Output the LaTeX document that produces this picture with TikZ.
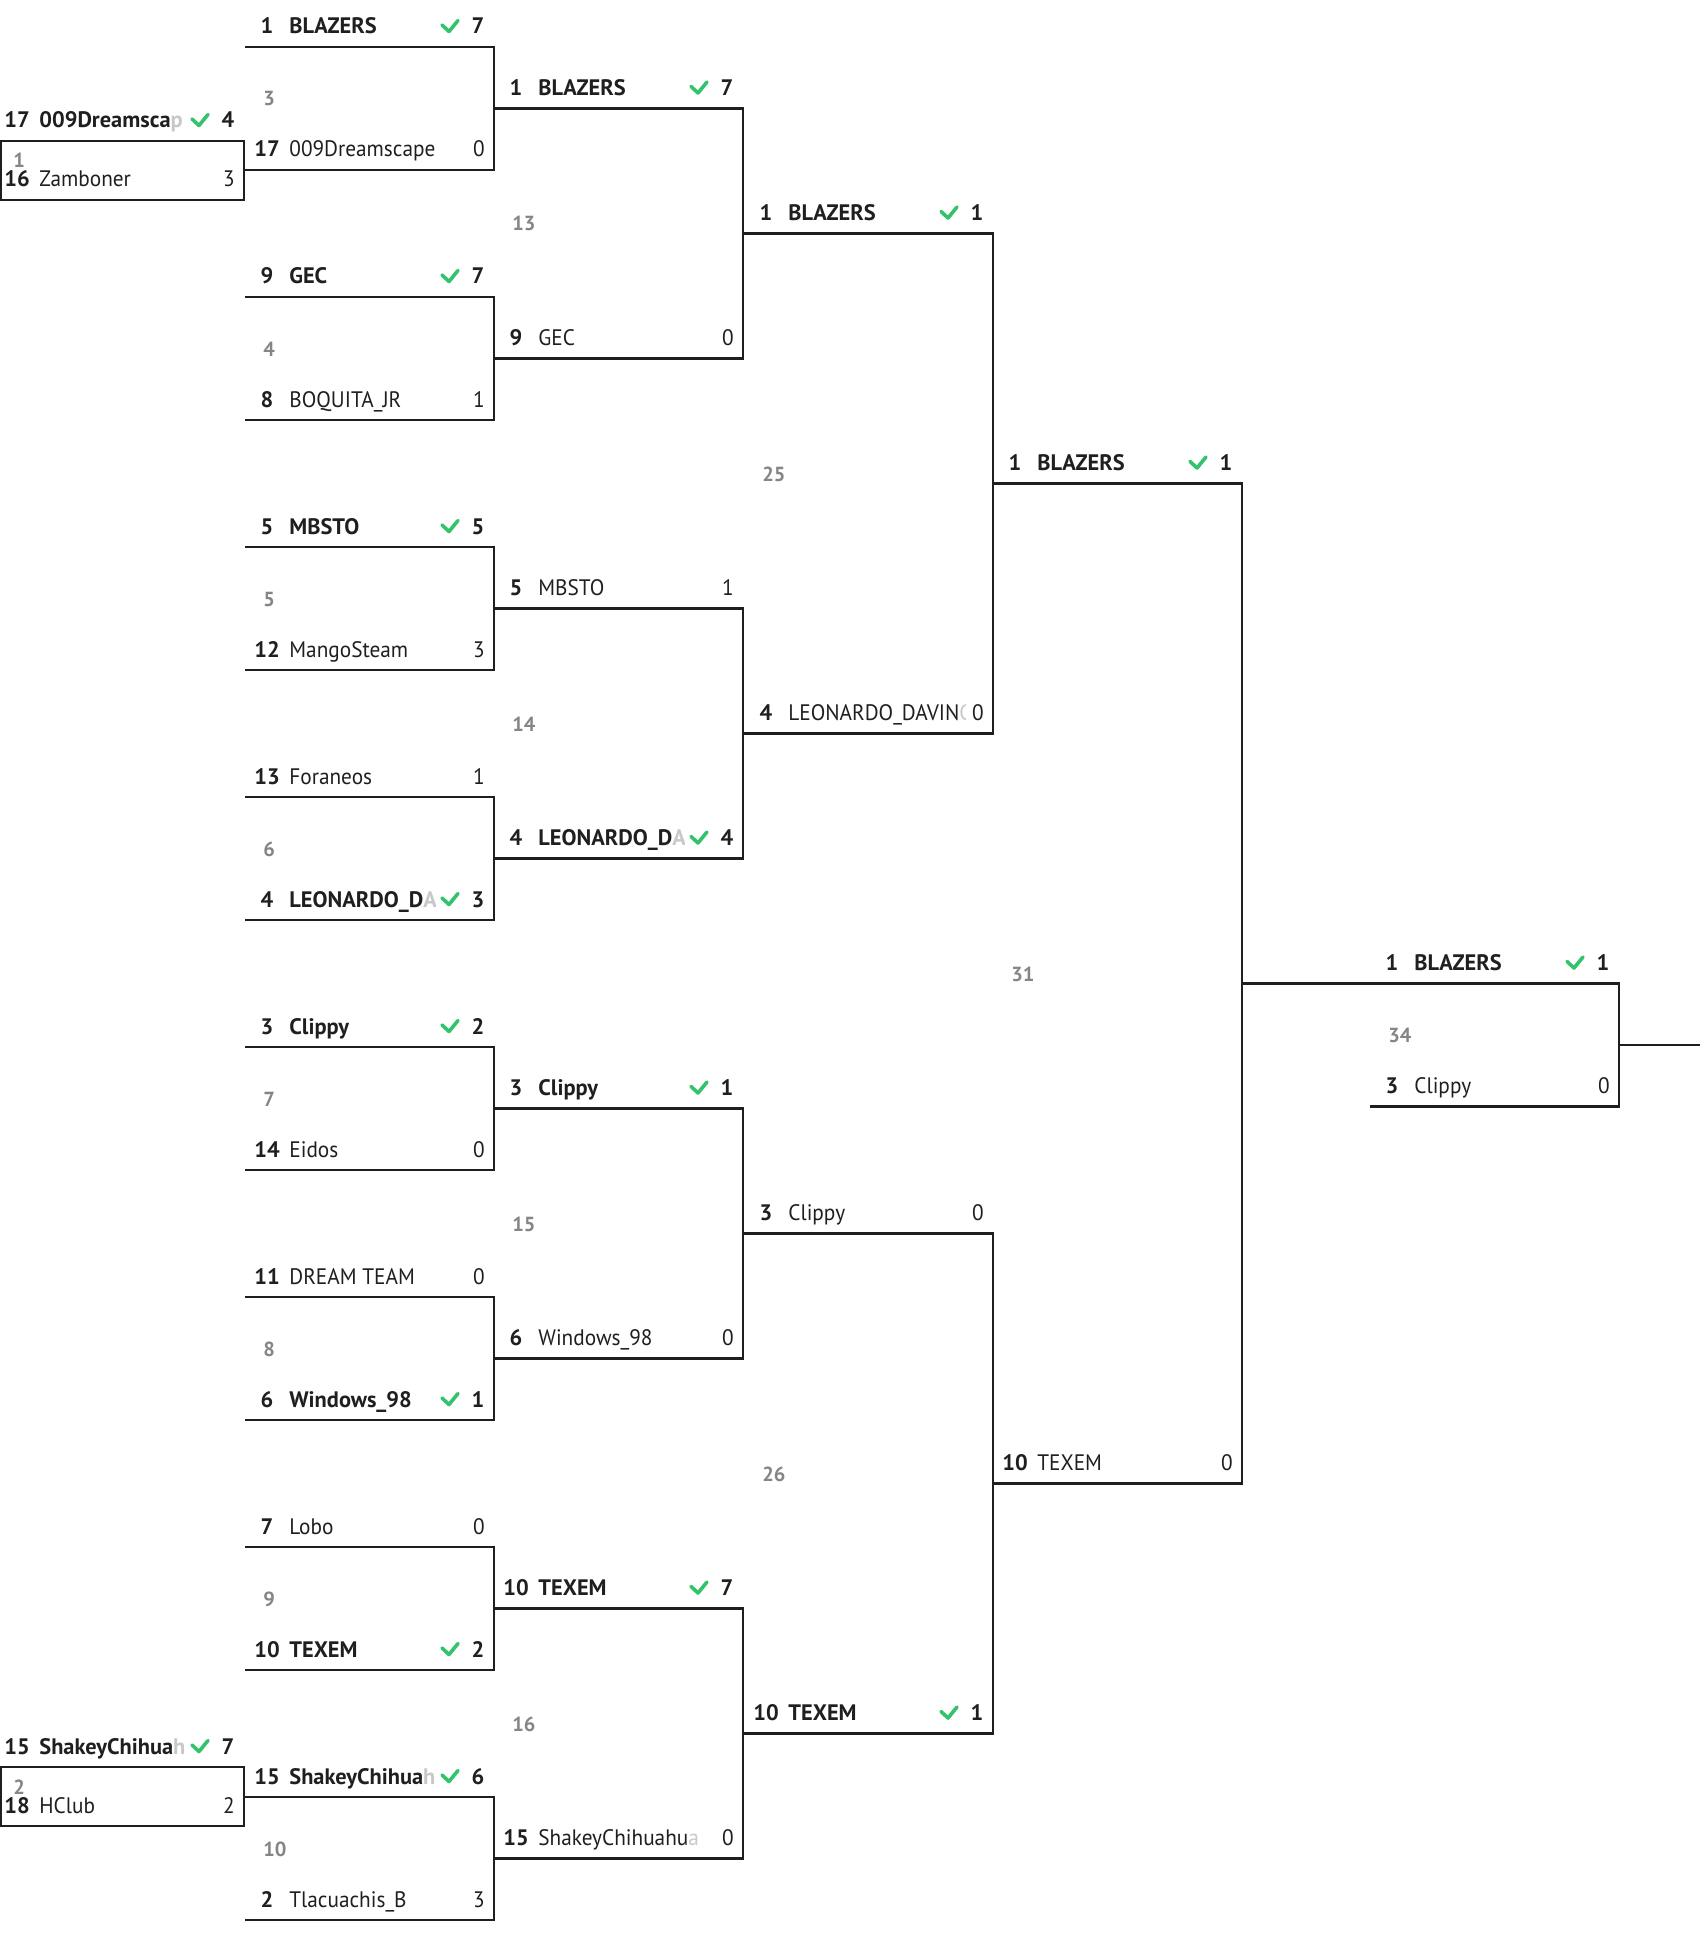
\documentclass[tikz,border=0pt]{standalone}
\usepackage{fontspec}
\setmainfont{PT Sans}
\newfontfamily\regfont{PT Sans}[FakeStretch=0.95]

\definecolor{ink}{HTML}{1F1F1F}
\definecolor{tickgreen}{HTML}{33C36A}
\definecolor{nogray}{HTML}{858585}
\definecolor{fadegray}{HTML}{C8C8C8}

\newcommand*{\colw}{249}
\newcommand*{\fd}[1]{\textcolor{fadegray}{#1}}

% one match: id, left x, top line y, bottom line y, match number
\newcommand*{\bmatch}[5]{%
  \coordinate (#1-t) at (#2,#3);
  \coordinate (#1-b) at (#2,#4);
  \coordinate (#1-e) at (#2+\colw,{(#3+#4)/2});
  \draw[bline] (#1-t) -| (#1-e) |- (#1-b);
  \node[matchno] (#1-no) at (#2+18,{(#3+#4)/2-2.5}) {#5};
}
% winning row: id, left x, line y, seed, name, score
\newcommand*{\winner}[6]{%
  \node[seed] (#1-s) at (#2+22,#3-13) {#4};
  \begin{scope}
    \clip (#2+40,#3-40) rectangle (#2+190,#3);
    \node[team,font=\bfont] (#1-n) at (#2+44,#3-13) {#5};
  \end{scope}
  \draw[checkmark] (#2+197,#3-22) -- (#2+204,#3-15.5) -- (#2+213,#3-26.5);
  \node[score,font=\bfont] (#1-p) at (#2+233,#3-13) {#6};
}
% losing row: id, left x, line y, seed, name, score
\newcommand*{\loser}[6]{%
  \node[seed] (#1-s) at (#2+22,#3-13) {#4};
  \begin{scope}
    \clip (#2+40,#3-40) rectangle (#2+221,#3);
    \node[team] (#1-n) at (#2+44,#3-13) {#5};
  \end{scope}
  \node[score] (#1-p) at (#2+234,#3-13) {#6};
}
\newcommand*{\rfont}{\fontsize{11.2}{13}\regfont}
\newcommand*{\bfont}{\fontsize{11.2}{13}\selectfont\bfseries}
\newcommand*{\nfont}{\fontsize{10.2}{12}\selectfont\bfseries}

\begin{document}
\begin{tikzpicture}
[
	x=0.5pt,
	y=-0.5pt,
	bline/.style={draw=ink,line width=1.15pt},
	checkmark/.style={draw=tickgreen,line width=1.8pt,line cap=round,line join=round},
	seed/.style={anchor=base,inner sep=0pt,text=ink,font=\bfont},
	team/.style={anchor=base west,inner sep=0pt,text=ink,font=\rfont},
	score/.style={anchor=base,inner sep=0pt,text=ink,font=\rfont},
	matchno/.style={anchor=base west,inner sep=0pt,text=nogray,font=\nfont}
]
	\useasboundingbox (0,0) rectangle (1700,1942);

	% preliminary round
	\bmatch{m1}{-5}{141}{200}{1}
	\winner{m1a}{-5}{141}{17}{009Dreamsca\fd{p}}{4}
	\loser{m1b}{-5}{200}{16}{Zamboner}{3}
	\bmatch{m2}{-5}{1767}{1826}{2}
	\winner{m2a}{-5}{1767}{15}{ShakeyChihua\fd{h}}{7}
	\loser{m2b}{-5}{1826}{18}{HClub}{2}
	\draw[bline] (1,141) -- (1,200);
	\draw[bline] (1,1767) -- (1,1826);

	% first round
	\bmatch{m3}{245}{47}{170}{3}
	\winner{m3a}{245}{47}{1}{BLAZERS}{7}
	\loser{m3b}{245}{170}{17}{009Dreamscape}{0}
	\bmatch{m4}{245}{297}{420}{4}
	\winner{m4a}{245}{297}{9}{GEC}{7}
	\loser{m4b}{245}{420}{8}{BOQUITA\_JR}{1}
	\bmatch{m5}{245}{547}{670}{5}
	\winner{m5a}{245}{547}{5}{MBSTO}{5}
	\loser{m5b}{245}{670}{12}{MangoSteam}{3}
	\bmatch{m6}{245}{797}{920}{6}
	\loser{m6a}{245}{797}{13}{Foraneos}{1}
	\winner{m6b}{245}{920}{4}{LEONARDO\_D\fd{A}}{3}
	\bmatch{m7}{245}{1047}{1170}{7}
	\winner{m7a}{245}{1047}{3}{Clippy}{2}
	\loser{m7b}{245}{1170}{14}{Eidos}{0}
	\bmatch{m8}{245}{1297}{1420}{8}
	\loser{m8a}{245}{1297}{11}{DREAM TEAM}{0}
	\winner{m8b}{245}{1420}{6}{Windows\_98}{1}
	\bmatch{m9}{245}{1547}{1670}{9}
	\loser{m9a}{245}{1547}{7}{Lobo}{0}
	\winner{m9b}{245}{1670}{10}{TEXEM}{2}
	\bmatch{m10}{245}{1797}{1920}{10}
	\winner{m10a}{245}{1797}{15}{ShakeyChihua\fd{h}}{6}
	\loser{m10b}{245}{1920}{2}{Tlacuachis\_B}{3}

	% second round
	\bmatch{m13}{494}{108.5}{358.5}{13}
	\winner{m13a}{494}{108.5}{1}{BLAZERS}{7}
	\loser{m13b}{494}{358.5}{9}{GEC}{0}
	\bmatch{m14}{494}{608.5}{858.5}{14}
	\loser{m14a}{494}{608.5}{5}{MBSTO}{1}
	\winner{m14b}{494}{858.5}{4}{LEONARDO\_D\fd{A}}{4}
	\bmatch{m15}{494}{1108.5}{1358.5}{15}
	\winner{m15a}{494}{1108.5}{3}{Clippy}{1}
	\loser{m15b}{494}{1358.5}{6}{Windows\_98}{0}
	\bmatch{m16}{494}{1608.5}{1858.5}{16}
	\winner{m16a}{494}{1608.5}{10}{TEXEM}{7}
	\loser{m16b}{494}{1858.5}{15}{ShakeyChihuahu\fd{a}}{0}

	% quarter finals
	\bmatch{m25}{744}{233.5}{733.5}{25}
	\winner{m25a}{744}{233.5}{1}{BLAZERS}{1}
	\loser{m25b}{744}{733.5}{4}{LEONARDO\_DAVIN\fd{C}}{0}
	\bmatch{m26}{744}{1233.5}{1733.5}{26}
	\loser{m26a}{744}{1233.5}{3}{Clippy}{0}
	\winner{m26b}{744}{1733.5}{10}{TEXEM}{1}

	% semi final
	\bmatch{m31}{993}{483.5}{1483.5}{31}
	\winner{m31a}{993}{483.5}{1}{BLAZERS}{1}
	\loser{m31b}{993}{1483.5}{10}{TEXEM}{0}

	% final
	\bmatch{m34}{1370}{983.5}{1106.5}{34}
	\winner{m34a}{1370}{983.5}{1}{BLAZERS}{1}
	\loser{m34b}{1370}{1106.5}{3}{Clippy}{0}
	\draw[bline] (m31-e) -- (m34-t);
	\coordinate (out) at (1700,1045);
	\draw[bline] (m34-e) -- (out);

\end{tikzpicture}
\end{document}
